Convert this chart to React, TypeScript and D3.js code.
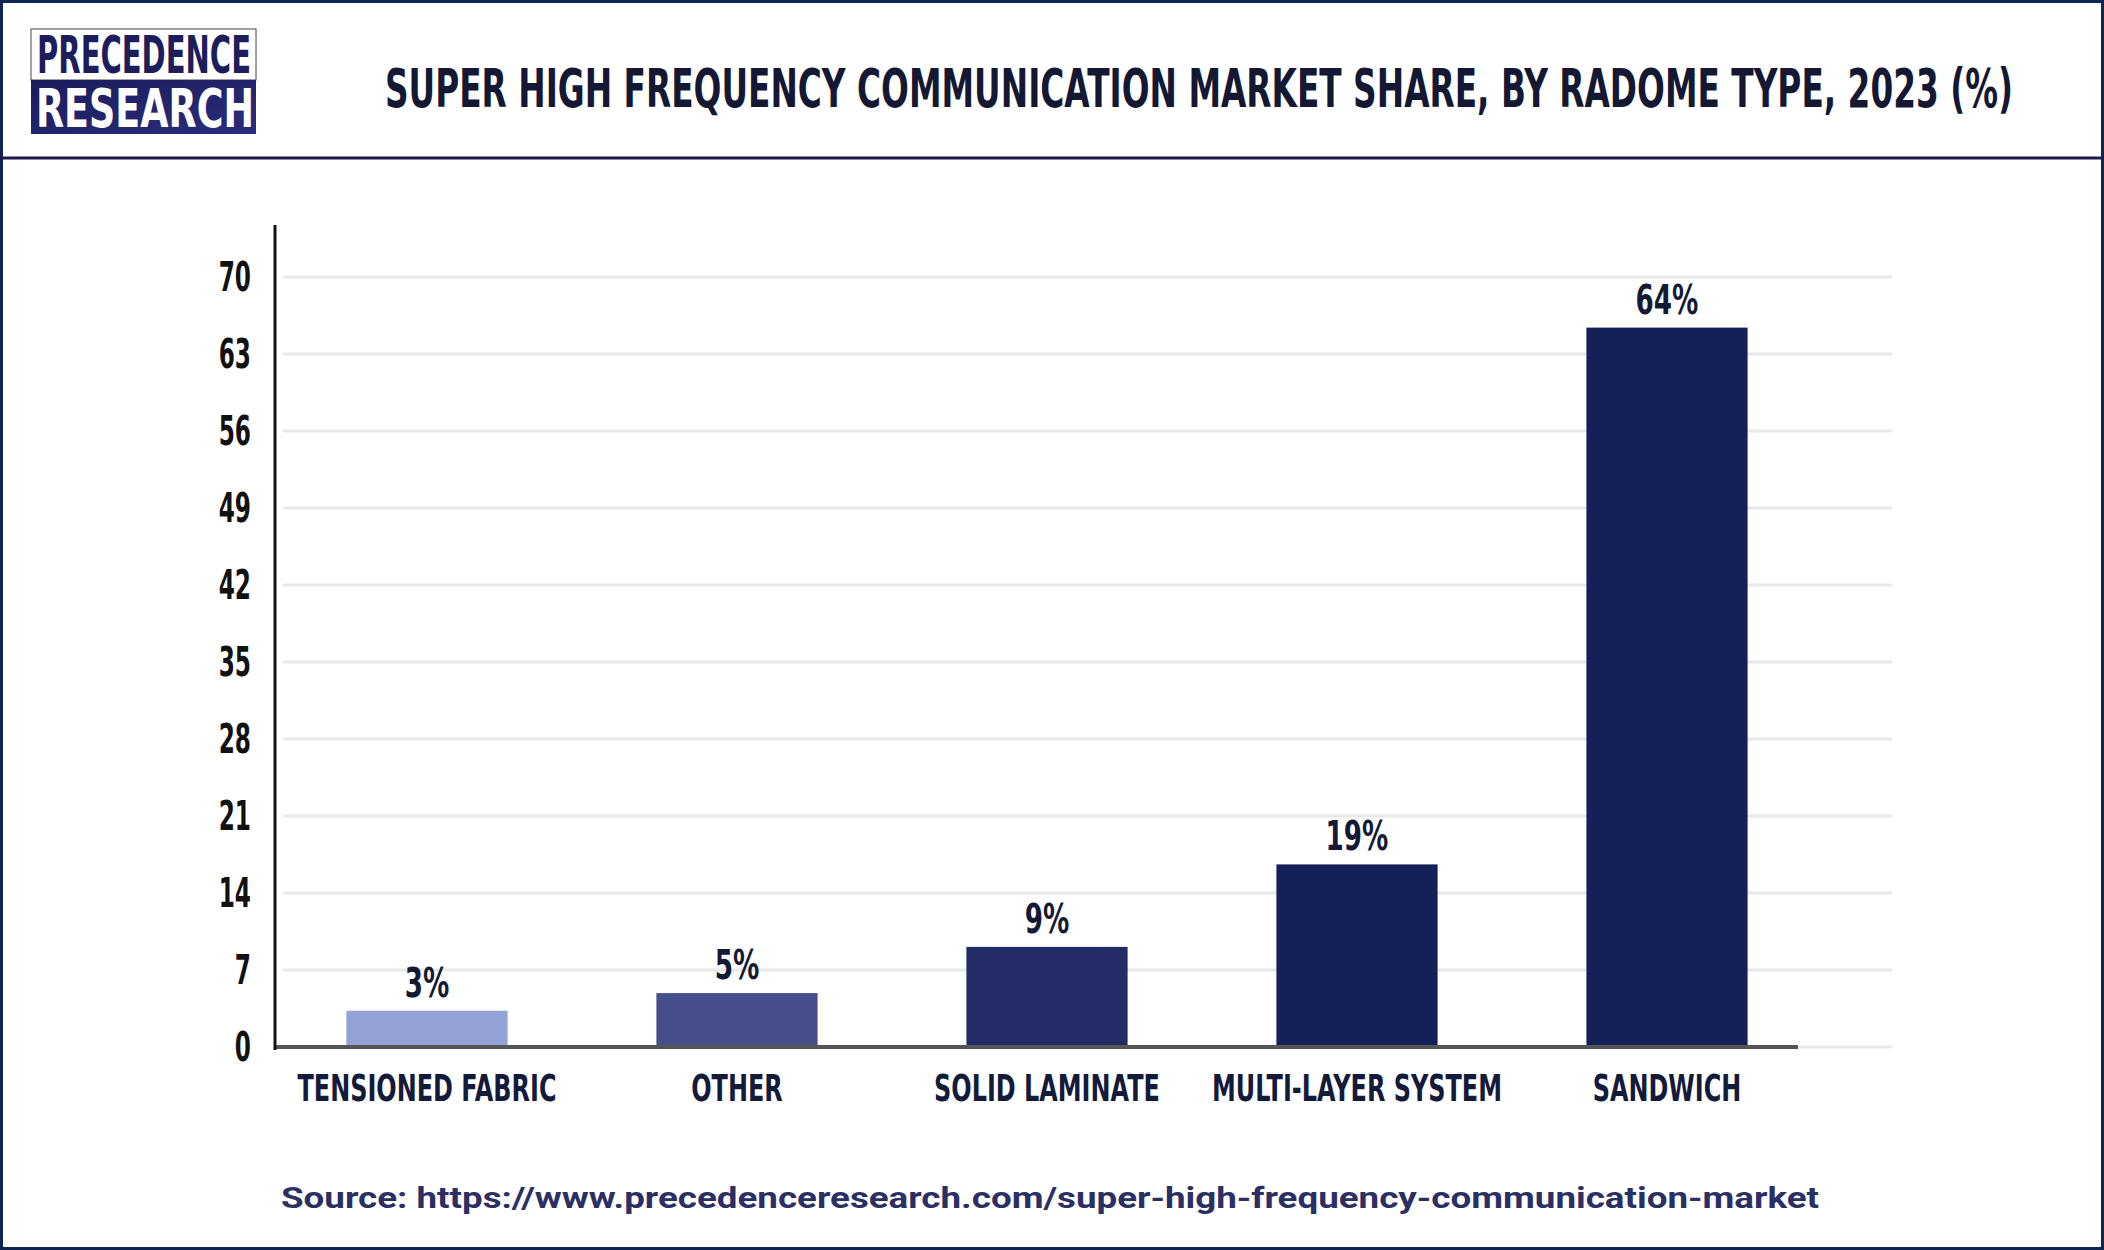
import React from "react";
import * as d3 from "d3";

const categories = ["TENSIONED FABRIC", "OTHER", "SOLID LAMINATE", "MULTI-LAYER SYSTEM", "SANDWICH"];
const barValues = [3.3, 4.9, 9.1, 16.6, 65.4];
const valueLabels = ["3%", "5%", "9%", "19%", "64%"];
const barColors = ["#94a2d6", "#464f8a", "#232c66", "#142057", "#142057"];
const yTicks = [0, 7, 14, 21, 28, 35, 42, 49, 56, 63, 70];
const titleText = "SUPER HIGH FREQUENCY COMMUNICATION MARKET SHARE, BY RADOME TYPE, 2023 (%)";
const sourceText = "Source: https://www.precedenceresearch.com/super-high-frequency-communication-market";

const W = 2104;
const H = 1250;
const COND = "'DejaVu Sans', sans-serif";

export default function App() {
  const x = d3.scaleBand<string>().domain(categories).range([272, 1822]).paddingInner(0.48).paddingOuter(0.24);
  const y = d3.scaleLinear().domain([0, 70]).range([1047, 277]);

  const sx = (cx: number, k: number) => `translate(${cx},0) scale(${k},1) translate(${-cx},0)`;

  return (
    <svg width={W} height={H} style={{ position: "absolute", left: 0, top: 0, background: "#fff" }}>
      <defs>
        <linearGradient id="logoGrad" x1="0" y1="0" x2="1" y2="1">
          <stop offset="0" stopColor="#1b1c5a" />
          <stop offset="1" stopColor="#2a2d7c" />
        </linearGradient>
      </defs>
      <rect x={0} y={0} width={W} height={H} fill="#ffffff" />
      {/* frame */}
      <rect x={1.5} y={1.5} width={W - 3} height={H - 3} fill="none" stroke="#0e2451" strokeWidth={3} />
      <line x1={0} x2={W} y1={158} y2={158} stroke="#1b1a4a" strokeWidth={3} />

      {/* logo */}
      <rect x={31} y={29} width={225} height={51} fill="#fff" stroke="#444" strokeWidth={1} />
      <rect x={31} y={80} width={225} height={54} fill="url(#logoGrad)" />
      <text x={37} y={73} fontFamily={COND} fontWeight="bold" fontSize={51} fill="#1d1d5b"
        textLength={214} lengthAdjust="spacingAndGlyphs">PRECEDENCE</text>
      <text x={36} y={127} fontFamily={COND} fontWeight="bold" fontSize={54} fill="#ffffff"
        textLength={218} lengthAdjust="spacingAndGlyphs">RESEARCH</text>

      {/* title */}
      <text x={385} y={107} fontFamily={COND} fontWeight="bold" fontSize={53} fill="#141833"
        textLength={1628} lengthAdjust="spacingAndGlyphs">{titleText}</text>

      {/* gridlines */}
      {yTicks.map((t) => (
        <line key={"g" + t} x1={283} x2={1892} y1={y(t)} y2={y(t)} stroke="#e8e8e8" strokeWidth={3} />
      ))}

      {/* bars */}
      {categories.map((c, i) => (
        <rect key={c} x={x(c)} y={y(barValues[i])} width={x.bandwidth()} height={y(0) - y(barValues[i])}
          fill={barColors[i]} />
      ))}

      {/* baseline */}
      <line x1={275} x2={1798} y1={y(0)} y2={y(0)} stroke="#555555" strokeWidth={4} />
      {/* y axis */}
      <line x1={275} x2={275} y1={225} y2={1050} stroke="#111111" strokeWidth={3} />

      {/* tick labels */}
      {yTicks.map((t) => (
        <text key={"t" + t} x={251} y={y(t) + 14.5} textAnchor="end" fontFamily={COND} fontWeight="bold"
          fontSize={40} fill="#111111" transform={sx(251, 0.58)}>{t}</text>
      ))}

      {/* value labels */}
      {categories.map((c, i) => {
        const cx = (x(c) as number) + x.bandwidth() / 2;
        return (
          <text key={"v" + c} x={cx} y={y(barValues[i]) - 14} textAnchor="middle" fontFamily={COND}
            fontWeight="bold" fontSize={41} fill="#141a33" transform={sx(cx, 0.64)}>{valueLabels[i]}</text>
        );
      })}

      {/* category labels */}
      {categories.map((c) => {
        const cx = (x(c) as number) + x.bandwidth() / 2;
        return (
          <text key={"c" + c} x={cx} y={1101} textAnchor="middle" fontFamily={COND} fontWeight="bold"
            fontSize={38} fill="#141a3a" transform={sx(cx, 0.63)}>{c}</text>
        );
      })}

      {/* source */}
      <text x={281} y={1208} fontFamily="Roboto, 'Noto Sans', sans-serif" fontWeight="bold" fontSize={30}
        fill="#2c2f63" textLength={1538} lengthAdjust="spacingAndGlyphs">{sourceText}</text>
    </svg>
  );
}
